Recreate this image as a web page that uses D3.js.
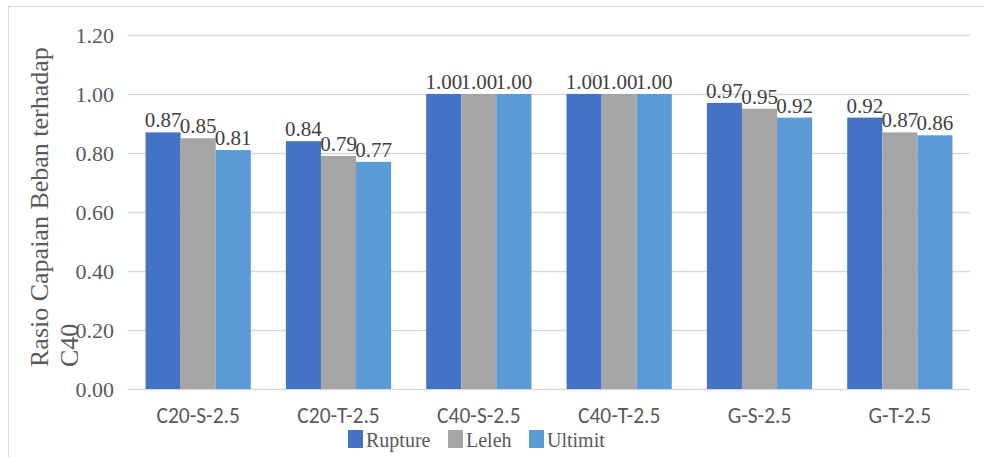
<!DOCTYPE html>
<html>
<head>
<meta charset="utf-8">
<script src="https://cdnjs.cloudflare.com/ajax/libs/d3/7.8.5/d3.min.js"></script>
<style>
  body { margin: 0; background: #fff; }
  svg { display: block; }
</style>
</head>
<body>
<div id="chart"></div>
<script>
const categories = ["C20-S-2.5", "C20-T-2.5", "C40-S-2.5", "C40-T-2.5", "G-S-2.5", "G-T-2.5"]
const seriesNames = ["Rupture", "Leleh", "Ultimit"]
const rupture = [0.87, 0.84, 1.00, 1.00, 0.97, 0.92]
const leleh = [0.85, 0.79, 1.00, 1.00, 0.95, 0.87]
const ultimit = [0.81, 0.77, 1.00, 1.00, 0.92, 0.86]
const yTicks = [0, 0.2, 0.4, 0.6, 0.8, 1.0, 1.2]
const colors = ["#4472C4", "#A5A5A5", "#5B9BD5"]

const serif = "'Liberation Serif', 'Times New Roman', serif"
const sans = "Carlito, 'Liberation Sans', sans-serif"

const width = 984, height = 457
const margin = { left: 128, right: 14, top: 35, bottom: 68 }

const svg = d3.select("#chart").append("svg")
  .attr("width", width)
  .attr("height", height)

// chart frame
svg.append("rect")
  .attr("x", 8.5).attr("y", 6.5)
  .attr("width", width + 10).attr("height", height + 10)
  .attr("fill", "none")
  .attr("stroke", "#d9d9d9")

const x0 = d3.scaleBand()
  .domain(categories)
  .range([margin.left, width - margin.right])
  .paddingInner(0.25)
  .paddingOuter(0.125)

const x1 = d3.scaleBand()
  .domain(seriesNames)
  .range([0, x0.bandwidth()])

const y = d3.scaleLinear()
  .domain([0, 1.2])
  .range([height - margin.bottom, margin.top])

// grid
svg.append("g")
  .selectAll("line")
  .data(yTicks)
  .enter().append("line")
  .attr("x1", margin.left)
  .attr("x2", width - margin.right)
  .attr("y1", d => Math.round(y(d)) + 0.5)
  .attr("y2", d => Math.round(y(d)) + 0.5)
  .attr("stroke", "#d9d9d9")
  .attr("stroke-width", 1.5)

// y tick labels
svg.append("g")
  .selectAll("text")
  .data(yTicks)
  .enter().append("text")
  .attr("x", 114)
  .attr("y", d => y(d))
  .attr("dy", "0.35em")
  .attr("text-anchor", "end")
  .attr("font-family", serif)
  .attr("font-size", 22)
  .attr("fill", "#595959")
  .text(d => d.toFixed(2))

// bars
const series = [rupture, leleh, ultimit]
const data = categories.map((c, i) => ({
  cat: c,
  vals: seriesNames.map((s, j) => ({ name: s, value: series[j][i], color: colors[j] }))
}))

const group = svg.selectAll(".group")
  .data(data)
  .enter().append("g")
  .attr("class", "group")
  .attr("transform", d => "translate(" + x0(d.cat) + ",0)")

group.selectAll("rect")
  .data(d => d.vals)
  .enter().append("rect")
  .attr("x", d => x1(d.name))
  .attr("y", d => y(d.value))
  .attr("width", x1.bandwidth())
  .attr("height", d => y(0) - y(d.value))
  .attr("fill", d => d.color)

group.selectAll("text")
  .data(d => d.vals)
  .enter().append("text")
  .attr("x", d => x1(d.name) + x1.bandwidth() / 2)
  .attr("y", d => y(d.value) - 5)
  .attr("text-anchor", "middle")
  .attr("font-family", serif)
  .attr("font-size", 21)
  .attr("fill", "#404040")
  .text(d => d.value.toFixed(2))

// x labels
svg.append("g")
  .selectAll("text")
  .data(categories)
  .enter().append("text")
  .attr("x", d => x0(d) + x0.bandwidth() / 2)
  .attr("y", 423)
  .attr("text-anchor", "middle")
  .attr("font-family", sans)
  .attr("font-size", 21.5)
  .attr("fill", "#595959")
  .text(d => d)

// y title (two lines, rotated)
const yTitle = ["Rasio Capaian Beban terhadap", "C40"]
svg.append("g")
  .selectAll("text")
  .data(yTitle)
  .enter().append("text")
  .attr("transform", (d, i) => "translate(" + (48 + i * 30) + ",367) rotate(-90)")
  .attr("text-anchor", "start")
  .attr("font-family", serif)
  .attr("font-size", 26)
  .attr("fill", "#595959")
  .text(d => d)

// legend
const legendX = [348, 448, 529]
const legend = svg.append("g")
  .selectAll("g")
  .data(seriesNames)
  .enter().append("g")
  .attr("transform", (d, i) => "translate(" + legendX[i] + ",430)")

legend.append("rect")
  .attr("width", 15)
  .attr("height", 18)
  .attr("fill", (d, i) => colors[i])

legend.append("text")
  .attr("x", 18)
  .attr("y", 17)
  .attr("font-family", serif)
  .attr("font-size", 20)
  .attr("fill", "#595959")
  .text(d => d)
</script>
</body>
</html>
